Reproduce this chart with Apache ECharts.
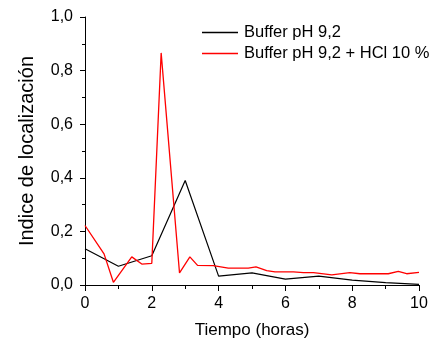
<!DOCTYPE html>
<html>
<head>
<meta charset="utf-8">
<script src="https://cdn.jsdelivr.net/npm/echarts@6/dist/echarts.min.js"></script>
<style>html,body{margin:0;padding:0;background:#fff}#c{width:432px;height:344px}</style>
</head>
<body>
<div id="c"></div>
<script>
// Data
const seriesNames = ['Buffer pH 9,2', 'Buffer pH 9,2 + HCl 10 %'];
const blackX = [0, 1, 2, 3, 4, 5, 6, 7, 8, 9, 10];
const blackY = [0.135, 0.07, 0.109, 0.39, 0.033, 0.045, 0.022, 0.033, 0.018, 0.009, 0.002];
const redX = [0, 0.57, 0.85, 1.40, 1.70, 2.0, 2.28, 2.83, 3.14, 3.37, 3.84, 4.29, 4.89, 5.12, 5.44, 5.69, 6.24, 6.54, 6.84, 7.39, 7.93, 8.23, 9.08, 9.38, 9.63, 10];
const redY = [0.222, 0.116, 0.01, 0.105, 0.078, 0.081, 0.866, 0.045, 0.105, 0.073, 0.072, 0.063, 0.063, 0.068, 0.054, 0.049, 0.049, 0.046, 0.046, 0.038, 0.046, 0.042, 0.042, 0.051, 0.042, 0.047];
const xTitle = 'Tiempo (horas)';
const yTitle = 'Indice de localización';

const font = 'Liberation Sans, Arial, Helvetica, sans-serif';
const chart = echarts.init(document.getElementById('c'), null, {renderer: 'canvas'});
chart.setOption({
  backgroundColor: '#fff',
  animation: false,
  grid: {left: 85, right: 13, top: 17, bottom: 57, containLabel: false},
  legend: {
    orient: 'vertical', left: 202, top: 24, padding: 0,
    icon: 'rect', itemWidth: 36, itemHeight: 1.3, itemGap: 4,
    textStyle: {fontFamily: font, fontSize: 16.5, color: '#000', lineHeight: 16, padding: [0,0,0,1]},
    data: seriesNames
  },
  xAxis: {
    type: 'value', min: 0, max: 10, interval: 2,
    name: xTitle, nameLocation: 'middle', nameGap: 37,
    nameTextStyle: {fontFamily: font, fontSize: 17, color: '#000'},
    axisLine: {show: true, onZero: false, lineStyle: {color: '#000', width: 1}},
    axisTick: {show: true, inside: false, length: 6, lineStyle: {color: '#000', width: 1}},
    minorTick: {show: true, splitNumber: 2, length: 4, lineStyle: {color: '#000', width: 1}},
    axisLabel: {fontFamily: font, fontSize: 16, color: '#000', margin: 11},
    splitLine: {show: false}
  },
  yAxis: {
    type: 'value', min: 0, max: 1, interval: 0.2,
    name: yTitle, nameLocation: 'middle', nameGap: 48,
    nameTextStyle: {fontFamily: font, fontSize: 20, color: '#000'},
    axisLine: {show: true, lineStyle: {color: '#000', width: 1}},
    axisTick: {show: true, inside: false, length: 5, lineStyle: {color: '#000', width: 1}},
    minorTick: {show: true, splitNumber: 2, length: 3, lineStyle: {color: '#000', width: 1}},
    axisLabel: {fontFamily: font, fontSize: 16, color: '#000', margin: 12,
      formatter: v => v.toFixed(1).replace('.', ',')},
    splitLine: {show: false}
  },
  series: [
    {name: seriesNames[0], type: 'line', symbol: 'none', clip: false,
     lineStyle: {color: '#000', width: 1.2}, itemStyle: {color: '#000'},
     data: blackX.map((x, i) => [x, blackY[i]])},
    {name: seriesNames[1], type: 'line', symbol: 'none', clip: false,
     lineStyle: {color: '#ff0000', width: 1.3}, itemStyle: {color: '#ff0000'},
     data: redX.map((x, i) => [x, redY[i]])}
  ]
});
</script>
</body>
</html>
